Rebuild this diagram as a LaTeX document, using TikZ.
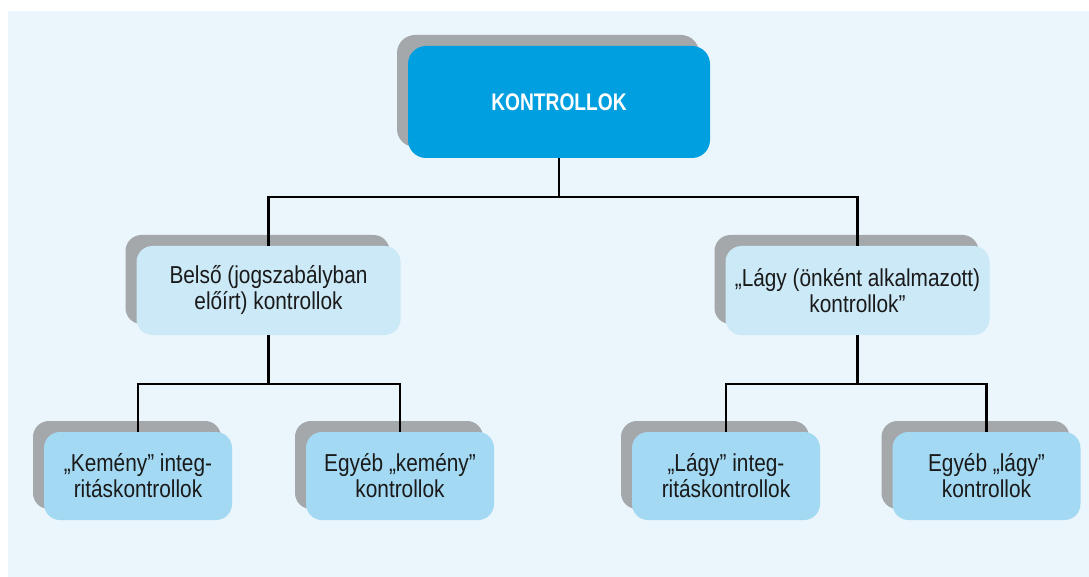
\documentclass[tikz,border=0pt]{standalone}
\usepackage{fontspec}
\setmainfont{Liberation Sans}[FakeStretch=0.85, BoldFeatures={FakeStretch=0.8}]
\usetikzlibrary{shadows}

\definecolor{bgblue}{HTML}{EAF5FC}
\definecolor{topblue}{HTML}{009FE0}
\definecolor{midblue}{HTML}{CCE9F7}
\definecolor{lowblue}{HTML}{A4D9F3}
\definecolor{shadowgrey}{HTML}{A4A8AB}
\definecolor{textdark}{HTML}{1A1A1A}

\tikzset{
  ctrlbox/.style={rectangle, rounded corners=16pt, align=center, text=textdark,
    font=\fontsize{24.5}{26}\selectfont, inner sep=0pt,
    drop shadow={shadow xshift=-11pt, shadow yshift=11pt, fill=shadowgrey, opacity=1}},
  topbox/.style={ctrlbox, fill=topblue, text=white, rounded corners=18pt,
    minimum width=302pt, minimum height=112pt, font=\fontsize{24}{26}\selectfont\bfseries},
  midbox/.style={ctrlbox, fill=midblue, minimum width=264pt, minimum height=89pt},
  lowbox/.style={ctrlbox, fill=lowblue, minimum width=188pt, minimum height=88pt},
  link/.style={line width=2.5pt, black}
}

\begin{document}
\begin{tikzpicture}[x=1pt, y=-1pt]
    \useasboundingbox (0,0) rectangle (1089,577);
    % Background
    \fill[bgblue] (8,11) rectangle (1089,577);

    % Top level
    \node[topbox] (kontroll) at (559,102) {KONTROLLOK};

    % Second level
    \node[midbox] (belso) at (268.5,290.5) {Belső (jogszabályban\\előírt) kontrollok};
    \node[midbox] (lagy) at (857.5,290.5) {„Lágy (önként alkalmazott)\\kontrollok”};

    % Third level
    \node[lowbox] (kemenyint) at (138,476) {„Kemény” integ-\\ritáskontrollok};
    \node[lowbox] (kemenyegy) at (400,476) {Egyéb „kemény”\\kontrollok};
    \node[lowbox] (lagyint) at (726,476) {„Lágy” integ-\\ritáskontrollok};
    \node[lowbox] (lagyegy) at (986.5,476) {Egyéb „lágy”\\kontrollok};

    % Connectors
    \draw[link] (kontroll.south) -- ++(0,39) coordinate (j0);
    \draw[link] (belso.north) |- (j0) -| (lagy.north);

    \draw[link] (belso.south) -- ++(0,49) coordinate (j1);
    \draw[link] (kemenyint.north) |- (j1) -| (kemenyegy.north);

    \draw[link] (lagy.south) -- ++(0,49) coordinate (j2);
    \draw[link] (lagyint.north) |- (j2) -| (lagyegy.north);
\end{tikzpicture}
\end{document}
